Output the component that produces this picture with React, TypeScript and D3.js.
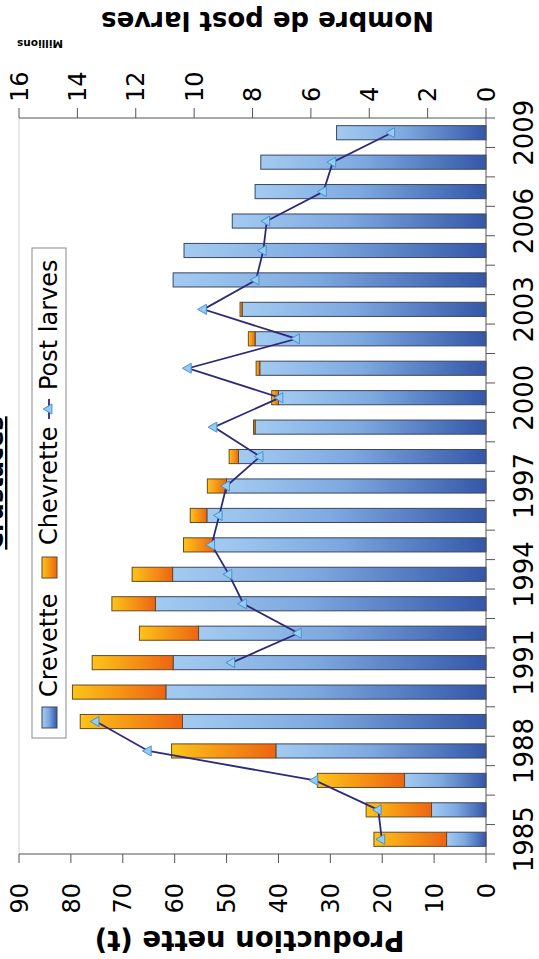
import * as React from "react"
import * as d3 from "d3"

// chart is drawn landscape (959 x 539) then turned -90deg to fit the portrait page
const years = [
  1985, 1986, 1987, 1988, 1989, 1990, 1991, 1992, 1993, 1994, 1995, 1996, 1997,
  1998, 1999, 2000, 2001, 2002, 2003, 2004, 2005, 2006, 2007, 2008, 2009,
]
const crevette = [
  7.6, 10.5, 15.7, 40.5, 58.5, 61.7, 60.3, 55.4, 63.7, 60.4, 52.4, 53.8, 50.0,
  47.7, 44.5, 40.0, 43.6, 44.5, 47.0, 60.3, 58.2, 48.9, 44.5, 43.4, 28.8,
]
const chevrette = [
  14.0, 12.6, 16.8, 20.1, 19.7, 18.0, 15.6, 11.4, 8.4, 7.8, 5.9, 3.2, 3.7, 1.8,
  0.3, 1.3, 0.7, 1.3, 0.4, 0, 0, 0, 0, 0, 0,
]
// millions, no value for 1990
const postLarves: (number | null)[] = [
  3.57, 3.69, 5.86, 11.57, 13.36, null, 8.71, 6.43, 8.31, 8.81, 9.4, 9.14,
  8.89, 7.74, 9.32, 7.06, 10.2, 6.49, 9.68, 7.88, 7.63, 7.51, 5.57, 5.25, 3.23,
]
const prodTicks = [0, 10, 20, 30, 40, 50, 60, 70, 80, 90]
const larvesTicks = [0, 2, 4, 6, 8, 10, 12, 14, 16]
const yearLabels = [1985, 1988, 1991, 1994, 1997, 2000, 2003, 2006, 2009]

const W = 959
const H = 539
const FONT = "DejaVu Sans"

function render(svgRef: React.RefObject<SVGSVGElement>) {
  const margin = { top: 19, right: 118, bottom: 53, left: 105 }
  const w = W - margin.left - margin.right
  const h = H - margin.top - margin.bottom

  const root = d3.select(svgRef.current)
  root.selectAll("*").remove()

  const defs = root.append("defs")
  const blue = defs
    .append("linearGradient")
    .attr("id", "crevGrad")
    .attr("x1", "0%")
    .attr("x2", "0%")
    .attr("y1", "0%")
    .attr("y2", "100%")
  blue.append("stop").attr("offset", "0%").style("stop-color", "#a3cbf1")
  blue.append("stop").attr("offset", "45%").style("stop-color", "#7ea9e0")
  blue.append("stop").attr("offset", "100%").style("stop-color", "#3457a8")

  const orange = defs
    .append("linearGradient")
    .attr("id", "chevGrad")
    .attr("x1", "0%")
    .attr("x2", "0%")
    .attr("y1", "0%")
    .attr("y2", "100%")
  orange.append("stop").attr("offset", "0%").style("stop-color", "#fcc419")
  orange.append("stop").attr("offset", "100%").style("stop-color", "#ee6412")

  root
    .append("rect")
    .attr("width", H)
    .attr("height", W)
    .attr("fill", "#fff")

  const chart = root
    .append("g")
    .attr("transform", `translate(0,${W}) rotate(-90)`)
    .attr("font-family", FONT)

  const g = chart
    .append("g")
    .attr("transform", `translate(${margin.left},${margin.top})`)

  const x = d3
    .scaleBand<number>()
    .domain(years)
    .range([0, w])
    .paddingInner(0.52)
    .paddingOuter(0.26)
  const yProd = d3.scaleLinear().domain([0, 90]).range([h, 0])
  const yLarves = d3.scaleLinear().domain([0, 16]).range([h, 0])

  // plot area top border
  g.append("line")
    .attr("x1", 0)
    .attr("x2", w)
    .attr("y1", 0)
    .attr("y2", 0)
    .attr("stroke", "#d4d4d4")

  // stacked bars
  const bars = g
    .selectAll(".bar")
    .data(years)
    .join("g")
    .attr("class", "bar")

  bars
    .append("rect")
    .attr("x", (d) => x(d)!)
    .attr("width", x.bandwidth())
    .attr("y", (_d, i) => yProd(crevette[i]))
    .attr("height", (_d, i) => h - yProd(crevette[i]))
    .attr("fill", "url(#crevGrad)")
    .attr("stroke", "#3c4660")
    .attr("stroke-width", 1)

  bars
    .filter((_d, i) => chevrette[i] > 0)
    .append("rect")
    .attr("x", (d) => x(d)!)
    .attr("width", x.bandwidth())
    .attr("y", (_d, i) => yProd(crevette[i] + chevrette[i]))
    .attr("height", (_d, i) => yProd(crevette[i]) - yProd(crevette[i] + chevrette[i]))
    .attr("fill", "url(#chevGrad)")
    .attr("stroke", "#6a4a20")
    .attr("stroke-width", 1)

  // post larves line
  const pts = years.map((yr, i) => ({ yr, v: postLarves[i] }))
  const line = d3
    .line<{ yr: number; v: number | null }>()
    .defined((d) => d.v !== null)
    .x((d) => x(d.yr)! + x.bandwidth() / 2)
    .y((d) => yLarves(d.v as number))

  g.append("path")
    .datum(pts)
    .attr("d", line)
    .attr("fill", "none")
    .attr("stroke", "#2d2a78")
    .attr("stroke-width", 1.8)

  const tri = d3.symbol().type(d3.symbolTriangle).size(44)
  g.selectAll(".marker")
    .data(pts.filter((d) => d.v !== null))
    .join("path")
    .attr("class", "marker")
    .attr("d", tri)
    .attr(
      "transform",
      (d) => `translate(${x(d.yr)! + x.bandwidth() / 2},${yLarves(d.v as number)})`
    )
    .attr("fill", "#93cdf0")
    .attr("stroke", "#4f8fcf")
    .attr("stroke-width", 1)

  // axes
  const axisColor = "#555"
  g.append("line")
    .attr("x1", 0)
    .attr("x2", 0)
    .attr("y1", 0)
    .attr("y2", h)
    .attr("stroke", axisColor)
  g.append("line")
    .attr("x1", w)
    .attr("x2", w)
    .attr("y1", 0)
    .attr("y2", h)
    .attr("stroke", axisColor)
  g.append("line")
    .attr("x1", 0)
    .attr("x2", w)
    .attr("y1", h)
    .attr("y2", h)
    .attr("stroke", axisColor)

  // year ticks at category boundaries
  const step = x.step()
  const bounds = d3.range(years.length + 1).map((i) => i * step)
  g.selectAll(".xtick")
    .data(bounds)
    .join("line")
    .attr("class", "xtick")
    .attr("x1", (d) => d)
    .attr("x2", (d) => d)
    .attr("y1", h)
    .attr("y2", h + 9)
    .attr("stroke", axisColor)

  g.selectAll(".xlabel")
    .data(yearLabels)
    .join("text")
    .attr("class", "xlabel")
    .attr("x", (d) => x(d)! + x.bandwidth() / 2)
    .attr("y", h + 47)
    .attr("text-anchor", "middle")
    .attr("font-size", 26)
    .attr("fill", "#000")
    .text((d) => d)

  // left axis
  g.selectAll(".ltick")
    .data(prodTicks)
    .join("line")
    .attr("class", "ltick")
    .attr("x1", -9)
    .attr("x2", 0)
    .attr("y1", (d) => yProd(d))
    .attr("y2", (d) => yProd(d))
    .attr("stroke", axisColor)
  g.selectAll(".llabel")
    .data(prodTicks)
    .join("text")
    .attr("class", "llabel")
    .attr("x", -29)
    .attr("y", (d) => yProd(d))
    .attr("dy", "0.36em")
    .attr("text-anchor", "end")
    .attr("font-size", 24)
    .text((d) => d)

  // right axis
  g.selectAll(".rtick")
    .data(larvesTicks)
    .join("line")
    .attr("class", "rtick")
    .attr("x1", w)
    .attr("x2", w + 10)
    .attr("y1", (d) => yLarves(d))
    .attr("y2", (d) => yLarves(d))
    .attr("stroke", axisColor)
  g.selectAll(".rlabel")
    .data(larvesTicks)
    .join("text")
    .attr("class", "rlabel")
    .attr("x", w + 16)
    .attr("y", (d) => yLarves(d))
    .attr("dy", "0.36em")
    .attr("text-anchor", "start")
    .attr("font-size", 24)
    .text((d) => d)

  // axis titles
  chart
    .append("text")
    .attr("transform", `translate(28,${margin.top + h / 2 - 3}) rotate(-90)`)
    .attr("text-anchor", "middle")
    .attr("font-size", 27.5)
    .attr("font-weight", "bold")
    .text("Production nette (t)")

  chart
    .append("text")
    .attr("transform", `translate(947,${margin.top + h / 2 + 15}) rotate(-90)`)
    .attr("text-anchor", "middle")
    .attr("font-size", 26)
    .attr("font-weight", "bold")
    .text("Nombre de post larves")

  chart
    .append("text")
    .attr("transform", `translate(919,40) rotate(-90)`)
    .attr("text-anchor", "middle")
    .attr("font-size", 10.5)
    .attr("font-weight", "bold")
    .text("Millions")

  // title, mostly cut off by the top edge
  chart
    .append("text")
    .attr("x", 476)
    .attr("y", 3)
    .attr("text-anchor", "middle")
    .attr("font-size", 24)
    .attr("font-weight", "bold")
    .style("text-decoration", "underline")
    .text("Crustacés")

  // legend
  const lg = chart.append("g")
  lg.append("rect")
    .attr("x", 221)
    .attr("y", 32)
    .attr("width", 490)
    .attr("height", 34)
    .attr("fill", "#fff")
    .attr("stroke", "#8a8a8a")

  lg.append("rect")
    .attr("x", 231)
    .attr("y", 42)
    .attr("width", 21)
    .attr("height", 15)
    .attr("fill", "url(#crevGrad)")
    .attr("stroke", "#3c4660")
  lg.append("text")
    .attr("x", 262)
    .attr("y", 57)
    .attr("font-size", 24)
    .text("Crevette")

  lg.append("rect")
    .attr("x", 381)
    .attr("y", 42)
    .attr("width", 21)
    .attr("height", 15)
    .attr("fill", "url(#chevGrad)")
    .attr("stroke", "#6a4a20")
  lg.append("text")
    .attr("x", 414)
    .attr("y", 57)
    .attr("font-size", 24)
    .text("Chevrette")

  lg.append("line")
    .attr("x1", 540)
    .attr("x2", 560)
    .attr("y1", 49)
    .attr("y2", 49)
    .attr("stroke", "#2d2a78")
    .attr("stroke-width", 1.8)
  lg.append("path")
    .attr("d", tri)
    .attr("transform", "translate(550,49)")
    .attr("fill", "#93cdf0")
    .attr("stroke", "#4f8fcf")
  lg.append("text")
    .attr("x", 569)
    .attr("y", 57)
    .attr("font-size", 24)
    .text("Post larves")
}

export default function App(): React.JSX.Element {
  const svg = React.useRef<SVGSVGElement>(null)

  React.useEffect(() => {
    render(svg)
  }, [])

  return (
    <svg
      ref={svg}
      width={H}
      height={W}
      style={{ position: "absolute", left: 0, top: 0, display: "block" }}
    />
  )
}
